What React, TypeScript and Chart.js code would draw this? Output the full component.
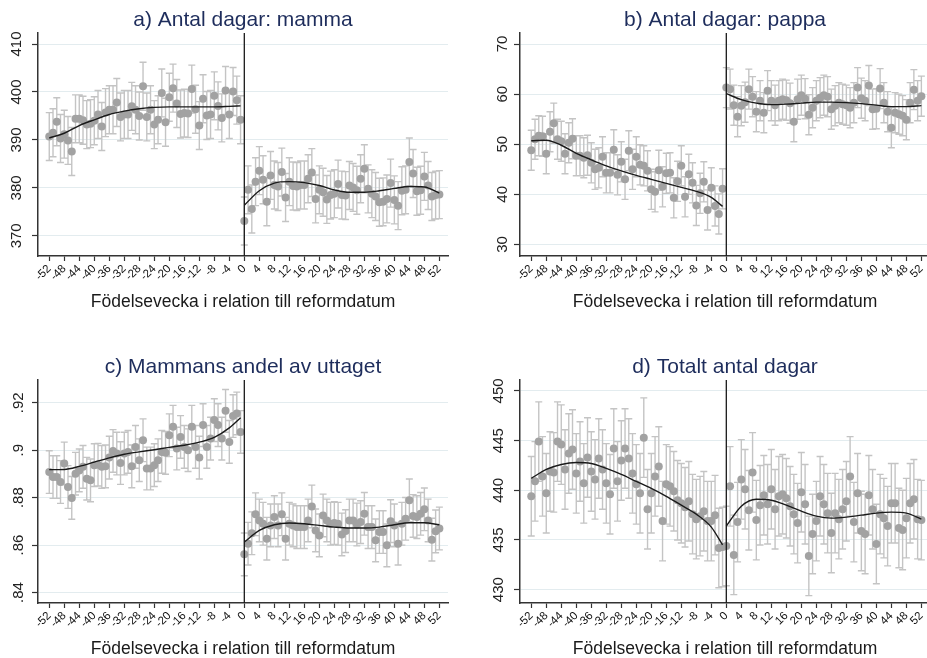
import React, { useEffect, useRef } from 'react';
import { Chart, registerables } from 'chart.js';

Chart.register(...registerables);

const FONT = 'Liberation Sans, Arial, Helvetica, sans-serif';

// weeks relative to the reform date (categories)
const weeks: number[] = Array.from({ length: 105 }, (_, i) => i - 52);
const xTickValues = [-52, -48, -44, -40, -36, -32, -28, -24, -20, -16, -12, -8, -4, 0, 4, 8, 12, 16, 20, 24, 28, 32, 36, 40, 44, 48, 52];
const fitWeeksLeft = [-52, -48, -44, -40, -36, -32, -28, -24, -20, -16, -12, -8, -4, -1];
const fitWeeksRight = [0, 4, 8, 12, 16, 20, 24, 28, 32, 36, 40, 44, 48, 52];

// a) Antal dagar: mamma
const mammaDays = [
  390.7, 391.5, 393.8, 390.3, 391.2, 389.9, 387.6, 394.4, 394.4, 394.1,
  393.2, 393.4, 394.0, 395.3, 392.8, 395.7, 396.3, 396.3, 397.8, 394.8,
  395.3, 395.3, 397.0, 396.3, 395.0, 401.2, 394.8, 396.3, 393.2, 394.2,
  399.8, 393.7, 398.9, 400.8, 397.6, 395.4, 395.6, 395.5, 400.6, 396.4,
  393.0, 398.6, 395.1, 395.3, 399.2, 397.1, 394.6, 400.3, 395.3, 400.1,
  398.3, 394.2,
  373.1, 379.6, 375.6, 381.3, 383.6, 381.7, 377.1, 382.6, 380.6, 380.3,
  383.3, 378.0, 381.3, 380.4, 380.3, 380.6, 380.6, 381.9, 383.2, 377.7,
  379.6, 379.1, 377.6, 378.5, 378.8, 380.8, 378.5, 378.4, 380.5, 380.1,
  379.5, 381.9, 384.0, 379.8, 378.8, 378.2, 377.0, 377.1, 377.7, 381.0,
  377.5, 376.3, 379.4, 379.6, 385.4, 383.0, 379.3, 379.5, 382.4, 380.5,
  378.2, 378.5, 378.6,
];
const mammaFitLeft = [390.4, 391.4, 393.0, 394.2, 395.3, 396.0, 396.5, 396.8, 396.9, 396.9, 396.9, 396.9, 397.0, 397.1];
const mammaFitRight = [376.4, 379.4, 381.0, 381.3, 381.1, 380.5, 379.6, 379.1, 379.1, 379.4, 379.9, 380.3, 380.2, 378.9];
const mammaCi = 5.0;
const mammaYTicks = [370, 380, 390, 400, 410];
const mammaYLabels = ['370', '380', '390', '400', '410'];

// b) Antal dagar: pappa
const pappaDays = [
  48.8, 51.0, 51.7, 51.6, 48.1, 52.5, 54.2, 51.0, 50.6, 48.1,
  50.3, 51.1, 47.7, 47.7, 47.3, 47.8, 46.3, 45.0, 45.3, 47.5,
  44.3, 44.3, 48.9, 43.9, 46.5, 43.0, 48.7, 45.0, 47.5, 45.9,
  45.7, 44.7, 41.0, 40.5, 44.8, 41.5, 44.2, 44.3, 39.3, 42.6,
  45.7, 39.5, 44.0, 42.3, 37.8, 40.2, 42.5, 36.9, 41.3, 37.7,
  36.1, 41.1,
  61.3, 61.0, 57.8, 55.5, 57.7, 58.4, 61.0, 59.5, 56.5, 58.7,
  56.3, 60.7, 58.7, 57.8, 58.7, 59.0, 58.8, 58.2, 54.5, 59.0,
  59.8, 59.1, 55.9, 57.3, 58.7, 59.3, 59.8, 59.5, 57.0, 57.7,
  58.3, 58.0, 57.8, 57.3, 58.3, 61.3, 59.2, 58.7, 61.7, 57.0,
  57.1, 61.1, 58.3, 56.5, 53.3, 56.3, 56.0, 55.7, 54.9, 58.3,
  60.9, 58.7, 59.6,
];
const pappaFitLeft = [50.7, 50.8, 49.8, 48.2, 46.9, 45.7, 44.7, 43.8, 43.0, 42.2, 41.4, 40.6, 39.4, 37.6];
const pappaFitRight = [60.1, 58.9, 58.2, 57.9, 58.0, 58.2, 58.4, 58.4, 58.3, 58.1, 57.8, 57.5, 57.5, 57.7];
const pappaCi = 4.0;
const pappaYTicks = [30, 40, 50, 60, 70];
const pappaYLabels = ['30', '40', '50', '60', '70'];

// c) Mammans andel av uttaget
const mammaShare = [
  0.8908, 0.8887, 0.8887, 0.8866, 0.8944, 0.8845, 0.8799, 0.8901, 0.8915, 0.8930,
  0.8880, 0.8873, 0.8937, 0.8939, 0.8930, 0.8932, 0.8969, 0.8997, 0.8986, 0.8946,
  0.8986, 0.8993, 0.8932, 0.9014, 0.8958, 0.9042, 0.8923, 0.8923, 0.8937, 0.8958,
  0.8993, 0.8989, 0.9063, 0.9099, 0.9007, 0.9056, 0.9014, 0.9000, 0.9099, 0.9014,
  0.8969, 0.9106, 0.9014, 0.9049, 0.9127, 0.9106, 0.9049, 0.9166, 0.9035, 0.9144,
  0.9155, 0.9077,
  0.8561, 0.8606, 0.8650, 0.8730, 0.8704, 0.8690, 0.8627, 0.8683, 0.8718, 0.8683,
  0.8730, 0.8627, 0.8690, 0.8683, 0.8676, 0.8676, 0.8676, 0.8704, 0.8763, 0.8662,
  0.8641, 0.8725, 0.8704, 0.8690, 0.8693, 0.8690, 0.8645, 0.8659, 0.8704, 0.8704,
  0.8687, 0.8697, 0.8732, 0.8676, 0.8676, 0.8620, 0.8655, 0.8655, 0.8599, 0.8701,
  0.8683, 0.8606, 0.8690, 0.8711, 0.8789, 0.8723, 0.8718, 0.8732, 0.8751, 0.8704,
  0.8623, 0.8658, 0.8670,
];
const shareFitLeft = [0.8918, 0.8919, 0.8932, 0.8950, 0.8968, 0.8983, 0.8993, 0.9002, 0.9012, 0.9021, 0.9034, 0.9054, 0.9094, 0.9137];
const shareFitRight = [0.8613, 0.8662, 0.8686, 0.8693, 0.8690, 0.8683, 0.8676, 0.8672, 0.8672, 0.8676, 0.8686, 0.8694, 0.8694, 0.8686];
const shareCi = 0.009;
const shareYTicks = [0.84, 0.86, 0.88, 0.9, 0.92];
const shareYLabels = ['.84', '.86', '.88', '.9', '.92'];

// d) Totalt antal dagar
const totalDays = [
  439.4, 440.9, 444.9, 441.4, 439.7, 441.9, 441.8, 444.9, 444.6, 442.1,
  443.7, 444.1, 441.7, 442.9, 440.7, 443.3, 441.9, 441.1, 443.2, 442.1,
  440.7, 439.6, 444.2, 440.9, 443.0, 444.2, 443.2, 441.7, 440.6, 439.7,
  445.3, 438.1, 439.7, 441.4, 442.4, 436.9, 440.6, 440.4, 439.9, 439.0,
  438.7, 438.3, 438.9, 437.6, 437.1, 437.4, 437.9, 436.9, 436.9, 437.5,
  434.2, 434.3,
  434.4, 440.4, 433.5, 436.8, 441.1, 440.1, 438.0, 441.8, 437.0, 438.5,
  439.5, 438.6, 440.1, 438.1, 439.4, 439.6, 439.2, 438.4, 437.6, 436.7,
  439.8, 438.6, 433.4, 435.6, 436.9, 439.4, 438.6, 437.7, 435.7, 437.7,
  437.1, 438.1, 438.9, 441.4, 436.8, 439.7, 435.9, 435.6, 439.5, 438.1,
  434.6, 437.6, 437.2, 436.4, 438.7, 438.7, 436.2, 436.0, 437.2, 438.7,
  439.1, 437.1, 437.0,
];
const totalFitLeft = [441.2, 442.1, 442.6, 442.8, 442.7, 442.2, 441.6, 440.9, 440.2, 439.4, 438.5, 437.6, 436.3, 434.5];
const totalFitRight = [436.4, 438.4, 439.1, 439.0, 438.5, 437.9, 437.4, 437.2, 437.3, 437.5, 437.7, 437.8, 437.7, 437.1];
const totalCi = 4.0;
const totalYTicks = [430, 435, 440, 445, 450];
const totalYLabels = ['430', '435', '440', '445', '450'];

type Panel = {
  title: string;
  values: number[];
  fitLeft: number[];
  fitRight: number[];
  ci: number;
  yMin: number;
  yMax: number;
  yTicks: number[];
  yLabels: string[];
  left: number;
  top: number;
};

const CW = 463;
const CH = 347;

const panels: Panel[] = [
  { title: 'a) Antal dagar: mamma', values: mammaDays, fitLeft: mammaFitLeft, fitRight: mammaFitRight, ci: mammaCi, yMin: 365.8, yMax: 412.3, yTicks: mammaYTicks, yLabels: mammaYLabels, left: 0, top: 0 },
  { title: 'b) Antal dagar: pappa', values: pappaDays, fitLeft: pappaFitLeft, fitRight: pappaFitRight, ci: pappaCi, yMin: 27.7, yMax: 72.2, yTicks: pappaYTicks, yLabels: pappaYLabels, left: 482, top: 0 },
  { title: 'c) Mammans andel av uttaget', values: mammaShare, fitLeft: shareFitLeft, fitRight: shareFitRight, ci: shareCi, yMin: 0.8356, yMax: 0.9296, yTicks: shareYTicks, yLabels: shareYLabels, left: 0, top: 347 },
  { title: 'd) Totalt antal dagar', values: totalDays, fitLeft: totalFitLeft, fitRight: totalFitRight, ci: totalCi, yMin: 428.66, yMax: 451.1, yTicks: totalYTicks, yLabels: totalYLabels, left: 482, top: 347 },
];

function PanelChart({ p }: { p: Panel }) {
  const ref = useRef<HTMLCanvasElement | null>(null);
  useEffect(() => {
    if (!ref.current) return;
    const pts = weeks.map((w, i) => ({ x: w, y: p.values[i] }));
    const fitL = fitWeeksLeft.map((w, i) => ({ x: w, y: p.fitLeft[i] }));
    const fitR = fitWeeksRight.map((w, i) => ({ x: w, y: p.fitRight[i] }));

    const extras = {
      id: 'extras',
      beforeDatasetsDraw(chart: any) {
        const { ctx, chartArea, scales } = chart;
        const xs = scales.x;
        const ys = scales.y;
        ctx.save();
        ctx.beginPath();
        ctx.rect(chartArea.left, chartArea.top, chartArea.right - chartArea.left, chartArea.bottom - chartArea.top);
        ctx.clip();
        ctx.strokeStyle = '#c4c4c4';
        ctx.lineWidth = 1.4;
        ctx.beginPath();
        weeks.forEach((w, i) => {
          const v = p.values[i];
          const px = xs.getPixelForValue(w);
          const y1 = ys.getPixelForValue(v - p.ci);
          const y2 = ys.getPixelForValue(v + p.ci);
          ctx.moveTo(px, y1);
          ctx.lineTo(px, y2);
          ctx.moveTo(px - 3.5, y1);
          ctx.lineTo(px + 3.5, y1);
          ctx.moveTo(px - 3.5, y2);
          ctx.lineTo(px + 3.5, y2);
        });
        ctx.stroke();
        ctx.restore();
      },
      afterDatasetsDraw(chart: any) {
        const { ctx, chartArea, scales } = chart;
        const x0 = scales.x.getPixelForValue(0);
        ctx.save();
        ctx.strokeStyle = '#1a1a1a';
        ctx.lineWidth = 1.3;
        ctx.beginPath();
        ctx.moveTo(x0, chartArea.top);
        ctx.lineTo(x0, chartArea.bottom);
        ctx.stroke();
        ctx.restore();
      },
    };

    const chart = new Chart(ref.current, {
      type: 'scatter',
      data: {
        datasets: [
          { type: 'line', data: fitL, borderColor: '#1a1a1a', borderWidth: 1.4, pointRadius: 0, cubicInterpolationMode: 'monotone', fill: false } as any,
          { type: 'line', data: fitR, borderColor: '#1a1a1a', borderWidth: 1.4, pointRadius: 0, cubicInterpolationMode: 'monotone', fill: false } as any,
          { type: 'scatter', data: pts, pointRadius: 4, pointBackgroundColor: '#a2a2a2', pointBorderWidth: 0, backgroundColor: '#a2a2a2', borderWidth: 0 } as any,
        ],
      },
      options: {
        animation: false,
        responsive: false,
        devicePixelRatio: 1,
        layout: { padding: { left: 0, right: 15, top: 0, bottom: 0 } },
        plugins: {
          legend: { display: false },
          tooltip: { enabled: false },
          title: {
            display: true,
            text: p.title,
            color: '#1e2d5c',
            fullSize: false,
            font: { family: FONT, size: 21, weight: 'normal', lineHeight: 1.2 },
            padding: { top: 7.5, bottom: 0.3 },
          },
        },
        scales: {
          x: {
            type: 'linear',
            min: -55,
            max: 54.3,
            afterBuildTicks: (s: any) => { s.ticks = xTickValues.map((v) => ({ value: v })); },
            afterFit: (s: any) => { s.height = 91; },
            ticks: {
              autoSkip: false,
              minRotation: 45,
              maxRotation: 45,
              padding: 1,
              color: '#111',
              font: { family: FONT, size: 11.5 },
              callback: (v: any) => String(v),
            },
            grid: { drawOnChartArea: false, drawTicks: true, tickLength: 5, tickColor: '#333', tickWidth: 1.2 },
            border: { color: '#333', width: 1.5 },
            title: {
              display: true,
              text: 'Födelsevecka i relation till reformdatum',
              color: '#1a1a1a',
              font: { family: FONT, size: 17.5 },
              padding: { top: 0, bottom: 34.5 },
            },
          },
          y: {
            type: 'linear',
            min: p.yMin,
            max: p.yMax,
            afterBuildTicks: (s: any) => { s.ticks = p.yTicks.map((v) => ({ value: v })); },
            afterFit: (s: any) => { s.width = 38; },
            ticks: {
              minRotation: 90,
              maxRotation: 90,
              crossAlign: 'center',
              padding: 3,
              color: '#222',
              font: { family: FONT, size: 15 },
              callback: (v: any) => {
                const i = p.yTicks.findIndex((t) => Math.abs(t - v) < 1e-9);
                return i >= 0 ? p.yLabels[i] : '';
              },
            },
            grid: { color: '#e3ecef', lineWidth: 1, drawTicks: true, tickLength: 6, tickColor: '#333', tickWidth: 1.2 },
            border: { color: '#333', width: 1.5 },
          },
        },
      } as any,
      plugins: [extras],
    });
    return () => chart.destroy();
  }, [p]);
  return (
    <canvas
      ref={ref}
      width={CW}
      height={CH}
      style={{ position: 'absolute', left: p.left, top: p.top, width: CW, height: CH }}
    />
  );
}

export default function App() {
  return (
    <div style={{ position: 'fixed', left: 0, top: 0, width: 927, height: 658, overflow: 'hidden', background: '#ffffff' }}>
      {panels.map((p) => (
        <PanelChart key={p.title} p={p} />
      ))}
    </div>
  );
}
